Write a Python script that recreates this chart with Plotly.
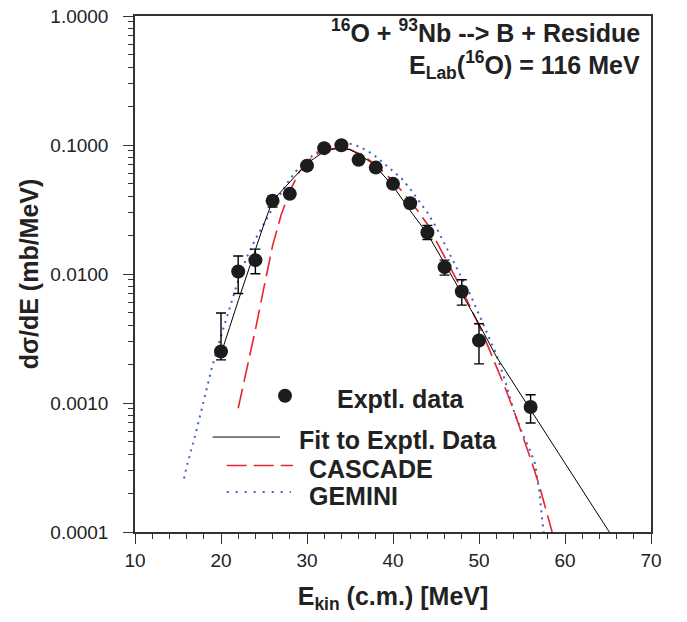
import plotly.graph_objects as go

# ---------------- data ----------------
exp_x = [20, 22, 24, 26, 28, 30, 32, 34, 36, 38, 40, 42, 44, 46, 48, 50, 56]
exp_y = [0.00251, 0.01045, 0.0128, 0.0369, 0.0418, 0.0692, 0.0945, 0.0996,
         0.0767, 0.0668, 0.0500, 0.0354, 0.0210, 0.0113, 0.00732, 0.00305, 0.00093]
exp_err_plus = [0.00247, 0.00335, 0.0028, 0.0035, 0.003, 0.005, 0.006, 0.006,
                0.005, 0.004, 0.003, 0.0025, 0.0028, 0.0015, 0.0017, 0.00106, 0.00023]
exp_err_minus = [0.00035, 0.00339, 0.00276, 0.0039, 0.003, 0.005, 0.006, 0.006,
                 0.005, 0.004, 0.003, 0.0025, 0.0025, 0.0015, 0.00158, 0.00104, 0.00023]

fit_x = [20.0, 20.3, 21.0, 22.0, 23.0, 23.4, 24.0, 25.0, 26.0, 28.0, 29.6, 30.0, 32.0,
         33.0, 34.0, 35.0, 36.0, 37.3, 38.0, 40.0, 42.0, 43.1, 44.0, 46.0, 48.0,
         50.0, 52.0, 56.0, 60.0, 65.15]
fit_y = [0.0024, 0.00274, 0.00386, 0.0062, 0.0099, 0.0118, 0.0155, 0.0244, 0.037,
         0.052, 0.068, 0.072, 0.089, 0.093, 0.0945, 0.092, 0.085, 0.0744, 0.068,
         0.048, 0.031, 0.0248, 0.0205, 0.0121, 0.0071, 0.0041, 0.0023, 0.00089,
         0.00034, 0.0001]

cascade_x = [22, 23, 24, 25, 26, 27, 28, 29, 30, 31, 32, 33, 34, 35, 36, 37, 38, 39,
             40, 41, 42, 43, 44, 45, 46, 47, 48, 49, 50, 51, 52, 53, 54, 55, 56,
             57, 58, 58.5]
cascade_y = [0.00091, 0.00182, 0.0037, 0.0079, 0.0166, 0.0288, 0.0437, 0.0603,
             0.0741, 0.0841, 0.0902, 0.0933, 0.0944, 0.0923, 0.0861, 0.0785,
             0.070, 0.061, 0.0525, 0.0442, 0.0367, 0.0302, 0.0243, 0.0182,
             0.0138, 0.0102, 0.0076, 0.0055, 0.0040, 0.0028, 0.00195, 0.00133,
             0.00089, 0.00058, 0.00037, 0.00023, 0.000135, 0.0001]

gemini_x = [15.7, 16, 17, 18, 19, 20, 21, 22, 23, 24, 25, 26, 27, 28, 29, 30, 31,
            32, 33, 34, 35, 36, 37, 38, 39, 40, 41, 42, 43, 44, 45, 46, 47, 48,
            49, 50, 51, 52, 53, 54, 55, 56, 56.5, 57, 57.5]
gemini_y = [0.00026, 0.00032, 0.00056, 0.00102, 0.00195, 0.0033, 0.0055, 0.0089,
            0.0135, 0.0186, 0.0245, 0.0324, 0.0427, 0.0543, 0.0661, 0.0767,
            0.0861, 0.0933, 0.0989, 0.1023, 0.1023, 0.0977, 0.0902, 0.0813,
            0.0716, 0.0631, 0.0550, 0.0457, 0.0372, 0.0299, 0.0232, 0.0170,
            0.0126, 0.0093, 0.0069, 0.0049, 0.00347, 0.0024, 0.00151, 0.00089,
            0.00059, 0.00042, 0.00034, 0.00021, 0.0001]

y_tickvals = [0.0001, 0.001, 0.01, 0.1, 1.0]
y_ticktext = ["0.0001", "0.0010", "0.0100", "0.1000", "1.0000"]
x_tickvals = [10, 20, 30, 40, 50, 60, 70]

legend_names = ["Exptl. data", "Fit to Exptl. Data", "CASCADE", "GEMINI"]

# ---------------- styling ----------------
FONT = "Liberation Sans, Arial, Helvetica, sans-serif"
AX = "#333333"
TXT = "#222222"
RED = "#e8262c"
BLUE = "#3f5fc4"
DOT = "#1c1c1c"

fig = go.Figure()

fig.add_trace(go.Scatter(x=gemini_x, y=gemini_y, mode="lines",
                         line=dict(color=BLUE, width=2, dash="2px,5px"),
                         showlegend=False, hoverinfo="skip"))
fig.add_trace(go.Scatter(x=cascade_x, y=cascade_y, mode="lines",
                         line=dict(color=RED, width=1.6, dash="20px,7px"),
                         showlegend=False, hoverinfo="skip"))
fig.add_trace(go.Scatter(x=fit_x, y=fit_y, mode="lines",
                         line=dict(color="black", width=1),
                         showlegend=False, hoverinfo="skip"))
fig.add_trace(go.Scatter(x=exp_x, y=exp_y, mode="markers",
                         marker=dict(color=DOT, size=14),
                         error_y=dict(type="data", symmetric=False,
                                      array=exp_err_plus, arrayminus=exp_err_minus,
                                      color="black", thickness=1.4, width=5),
                         showlegend=False))

# ---- custom legend drawn on an overlay [0,1] axis pair ----
leg_line_y = [0.184, 0.129, 0.0775]
fig.add_trace(go.Scatter(x=[0.2907], y=[0.264], mode="markers",
                         marker=dict(color=DOT, size=14),
                         xaxis="x2", yaxis="y2", showlegend=False, hoverinfo="skip"))
fig.add_trace(go.Scatter(x=[0.1506, 0.2810], y=[leg_line_y[0]] * 2, mode="lines",
                         line=dict(color="black", width=1),
                         xaxis="x2", yaxis="y2", showlegend=False, hoverinfo="skip"))
fig.add_trace(go.Scatter(x=[0.1777, 0.3062], y=[leg_line_y[1]] * 2, mode="lines",
                         line=dict(color=RED, width=1.6, dash="20px,7px"),
                         xaxis="x2", yaxis="y2", showlegend=False, hoverinfo="skip"))
fig.add_trace(go.Scatter(x=[0.1777, 0.3020], y=[leg_line_y[2]] * 2, mode="lines",
                         line=dict(color=BLUE, width=2, dash="2px,7px"),
                         xaxis="x2", yaxis="y2", showlegend=False, hoverinfo="skip"))

leg_text_pos = [(0.387, 0.2575), (0.3134, 0.179), (0.333, 0.1222), (0.333, 0.0707)]
annotations = []
for name, (lx, ly) in zip(legend_names, leg_text_pos):
    annotations.append(dict(text="<b>%s</b>" % name, x=lx, y=ly, xref="paper", yref="paper",
                            xanchor="left", yanchor="middle", showarrow=False,
                            font=dict(family=FONT, size=25, color=TXT)))

annotations.append(dict(text="<b><sup>16</sup>O + <sup>93</sup>Nb --&gt; B + Residue</b>",
                        x=0.982, y=0.97, xref="paper", yref="paper",
                        xanchor="right", yanchor="middle", showarrow=False,
                        font=dict(family=FONT, size=25, color=TXT)))
annotations.append(dict(text="<b>E<sub>Lab</sub>(<sup>16</sup>O) = 116 MeV</b>",
                        x=0.982, y=0.905, xref="paper", yref="paper",
                        xanchor="right", yanchor="middle", showarrow=False,
                        font=dict(family=FONT, size=25, color=TXT)))

fig.update_layout(
    width=687, height=622,
    margin=dict(l=135, r=36, t=16, b=90, pad=0),
    paper_bgcolor="white", plot_bgcolor="white",
    font=dict(family=FONT, color=TXT),
    annotations=annotations,
    xaxis=dict(range=[10, 70], tickmode="array", tickvals=x_tickvals,
               ticks="outside", ticklen=10, tickwidth=1.4, tickcolor=AX,
               minor=dict(tickmode="linear", tick0=10, dtick=2, ticks="outside",
                          ticklen=5, tickwidth=1.2, tickcolor=AX),
               showline=True, linecolor=AX, linewidth=1.5, mirror=True,
               showgrid=False, zeroline=False, ticklabeloverflow="allow",
               tickfont=dict(family=FONT, size=19, color=TXT),
               title=dict(text="<b>E<sub>kin</sub> (c.m.) [MeV]</b>",
                          font=dict(family=FONT, size=25, color=TXT),
                          standoff=18),
               automargin=False),
    yaxis=dict(type="log", range=[-4, 0], tickmode="array",
               tickvals=y_tickvals, ticktext=y_ticktext,
               ticks="outside", ticklen=10, tickwidth=1.4, tickcolor=AX,
               minor=dict(tickmode="array",
                          tickvals=[m * 10 ** e for e in range(-4, 0) for m in range(2, 10)],
                          ticks="outside", ticklen=5, tickwidth=1.2, tickcolor=AX),
               showline=True, linecolor=AX, linewidth=1.5, mirror=True,
               showgrid=False, zeroline=False, ticklabeloverflow="allow",
               ticklabelstandoff=11,
               tickfont=dict(family=FONT, size=19, color=TXT),
               title=dict(text="<b>d\u03c3/dE (mb/MeV)</b>",
                          font=dict(family=FONT, size=25, color=TXT),
                          standoff=5),
               automargin=False),
    xaxis2=dict(range=[0, 1], overlaying="x", visible=False, fixedrange=True),
    yaxis2=dict(range=[0, 1], overlaying="y", visible=False, fixedrange=True),
)

# remove the default 8px page margin so the figure sits at the window's corner
fig.write_html("out.html", config={"displayModeBar": False},
               post_script="document.body.style.margin='0px';")
